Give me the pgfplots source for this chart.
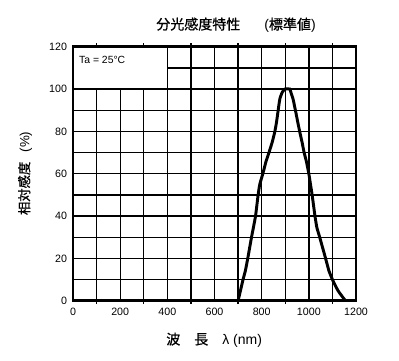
\documentclass[border=0pt]{standalone}
\usepackage{fontspec}
\setmainfont{Liberation Sans}
\newfontfamily\jp[BoldFont=Noto Sans CJK JP, BoldFeatures={FakeBold=0.7}]{Noto Sans CJK JP}
\usepackage{pgfplots}
\pgfplotsset{compat=1.18}
\begin{document}
\begin{tikzpicture}
\useasboundingbox (0,0) rectangle (299.25pt,270pt);
\begin{axis}[
  at={(54.75pt,44.475pt)}, anchor=south west,
  scale only axis, width=212.25pt, height=190.5pt,
  xmin=0, xmax=1200, ymin=0, ymax=120,
  xtick={0,200,...,1200}, minor xtick={100,300,...,1100},
  ytick={0,20,...,120}, minor ytick={10,30,...,110},
  grid=both,
  major grid style={black, line width=1pt},
  minor grid style={black, line width=1pt},
  major tick length=0pt, minor tick length=0pt,
  extra x ticks={100,300,...,1100}, extra x tick labels={},
  extra x tick style={grid=none, tick align=outside, major tick length=2.5pt, tick style={black, line width=1pt}},
  axis line style={line width=2pt},
  /pgf/number format/assume math mode=true,
  /pgf/number format/set thousands separator={},
  tick label style={font=\fontsize{8}{9}\selectfont},
  xticklabel style={yshift=-2pt},
  yticklabel style={xshift=-1pt},
  clip=false,
]
\addplot[black, line width=2.2pt, smooth, tension=0.3] coordinates {
(700,0) (710,4.7) (721,10) (731,14.2) (741,20) (757,30) (765,34.6) (774,40)
(785,50) (792,55) (805,60) (818,65.6) (831,70) (845,75) (856,80) (863,84.4)
(870,90) (877,95.3) (887,98.4) (899,100) (919,100) (924,98.4) (933,95.3)
(943,90) (953,84.4) (961,80) (971,75) (980,70) (990,65.6) (1000,60) (1007,55)
(1014,50) (1026,40) (1034,34.6) (1046,30) (1071,20) (1085,14.2) (1100,10)
(1124,4.7) (1155,0)
};
\fill[white] (axis cs:0,100) rectangle (axis cs:400,120);
\draw[black, line width=1pt] (axis cs:0,100) -- (axis cs:400,100) -- (axis cs:400,120);
\draw[black, line width=2pt] (rel axis cs:0,0) rectangle (rel axis cs:1,1);
\node[anchor=west, inner sep=0pt, font=\fontsize{7.8}{9}\selectfont] at (axis cs:25,113.7) {Ta = 25°C};
\end{axis}
\node[font=\fontsize{10.5}{12}\selectfont] at (177pt,251.25pt) {{\jp\bfseries 分光感度特性}\hspace{18pt}({\jp\bfseries 標準値})};
\node[rotate=90, font=\fontsize{10}{12}\selectfont] at (18.75pt,140pt) {{\jp\bfseries 相対感度}\hspace{7pt}(\%)};
\node[font=\fontsize{10.5}{12}\selectfont] at (160.6pt,15pt) {{\jp\bfseries 波　長　}λ (nm)};
\end{tikzpicture}
\end{document}
